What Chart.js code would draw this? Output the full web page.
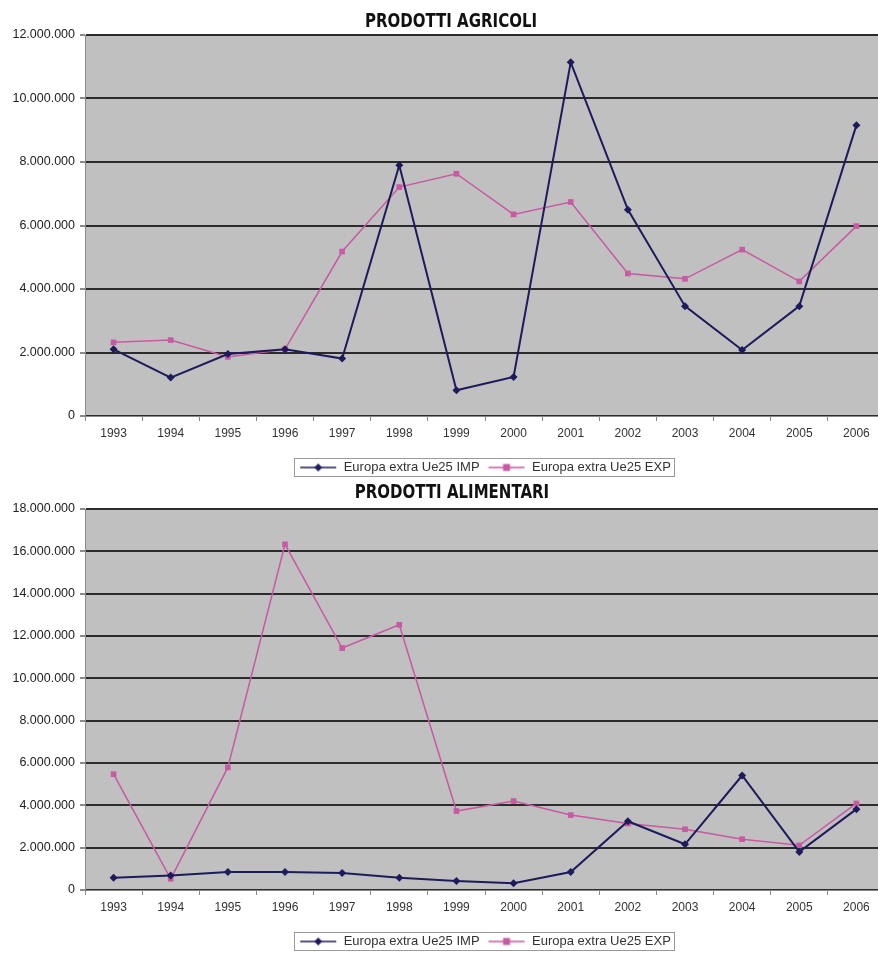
<!DOCTYPE html>
<html>
<head>
<meta charset="utf-8">
<script src="https://cdn.jsdelivr.net/npm/chart.js@4/dist/chart.umd.min.js"></script>
<style>
    html, body { margin: 0; padding: 0; background: #fff; overflow: hidden; }
    .panel { position: absolute; left: 0; width: 892px; height: 484px; }
    #agricoliBox { top: 0; }
    #alimentariBox { top: 474px; }
</style>
</head>
<body>
<div class="panel" id="agricoliBox"><canvas id="agricoliChart"></canvas></div>
<div class="panel" id="alimentariBox"><canvas id="alimentariChart"></canvas></div>
<script>
// Years on the x axis
const years = ['1993', '1994', '1995', '1996', '1997', '1998', '1999',
               '2000', '2001', '2002', '2003', '2004', '2005', '2006'];

// Series labels
const impLabel = 'Europa extra Ue25 IMP';
const expLabel = 'Europa extra Ue25 EXP';

// Prodotti agricoli
const agricoliImp = [2100000, 1210000, 1950000, 2100000, 1810000, 7900000, 810000,
                     1230000, 11140000, 6500000, 3460000, 2080000, 3460000, 9160000];
const agricoliExp = [2320000, 2390000, 1860000, 2100000, 5180000, 7210000, 7630000,
                     6350000, 6740000, 4490000, 4320000, 5240000, 4240000, 5980000];

// Prodotti alimentari
const alimentariImp = [580000, 690000, 850000, 850000, 800000, 580000, 420000,
                       320000, 850000, 3250000, 2160000, 5410000, 1800000, 3820000];
const alimentariExp = [5470000, 530000, 5790000, 16330000, 11430000, 12530000, 3730000,
                       4200000, 3540000, 3140000, 2870000, 2400000, 2110000, 4090000];

// Y axis ranges
const agricoliMax = 12000000;
const alimentariMax = 18000000;
const yStep = 2000000;

const impColor = '#1d1b5c';
const expColor = '#c75aa2';

// 12000000 -> "12.000.000"
function formatDots(value) {
    return String(Math.round(value)).replace(/\B(?=(\d{3})+(?!\d))/g, '.');
}

// Small line + marker swatch used in the legend
function legendSwatch(color, marker) {
    const c = document.createElement('canvas');
    c.width = 38;
    c.height = 10;
    const g = c.getContext('2d');
    g.strokeStyle = color;
    g.lineWidth = 1.5;
    g.beginPath();
    g.moveTo(1, 5);
    g.lineTo(37, 5);
    g.stroke();
    g.fillStyle = color;
    g.beginPath();
    if (marker === 'diamond') {
        g.moveTo(19, 1); g.lineTo(23, 5); g.lineTo(19, 9); g.lineTo(15, 5);
    } else {
        g.rect(15.5, 1.5, 7, 7);
    }
    g.closePath();
    g.fill();
    return c;
}

const swatches = [legendSwatch(impColor, 'diamond'), legendSwatch(expColor, 'square')];

// Grey plot background, condensed heading and the frame around the legend
const excelLook = {
    id: 'excelLook',
    beforeDraw(chart) {
        const a = chart.chartArea;
        const ctx = chart.ctx;
        ctx.save();
        ctx.fillStyle = '#c0c0c0';
        ctx.fillRect(a.left, a.top, a.right - a.left, a.bottom - a.top);
        ctx.restore();
    },
    afterDraw(chart, args, opts) {
        const ctx = chart.ctx;

        // heading, squeezed horizontally to look like a condensed face
        ctx.save();
        ctx.translate(opts.titleX, opts.titleY);
        ctx.scale(0.75, 1);
        ctx.font = "bold 20px 'DejaVu Sans', sans-serif";
        ctx.fillStyle = '#111';
        ctx.textAlign = 'center';
        ctx.textBaseline = 'alphabetic';
        ctx.fillText(opts.title, 0, 0);
        ctx.restore();

        const boxes = chart.legend.legendHitBoxes;
        if (!boxes || !boxes.length) return;
        let left = Infinity, right = -Infinity, top = Infinity, bottom = -Infinity;
        boxes.forEach(b => {
            left = Math.min(left, b.left);
            right = Math.max(right, b.left + b.width);
            top = Math.min(top, b.top);
            bottom = Math.max(bottom, b.top + b.height);
        });
        ctx.save();
        ctx.strokeStyle = '#9a9a9a';
        ctx.lineWidth = 1;
        ctx.strokeRect(Math.round(left - 5) + 0.5, Math.round(top - 3) + 0.5,
                       Math.round(right - left + 8), Math.round(bottom - top + 5));
        ctx.restore();
    }
};

function makeChart(canvasId, titleText, titleX, titleY, impData, expData, yMax) {
    const ctx = document.getElementById(canvasId).getContext('2d');
    return new Chart(ctx, {
        type: 'line',
        data: {
            labels: years,
            datasets: [
                {
                    label: impLabel,
                    data: impData,
                    borderColor: impColor,
                    backgroundColor: impColor,
                    borderWidth: 2,
                    pointStyle: 'rectRot',
                    pointRadius: 4,
                    pointBorderWidth: 0,
                    tension: 0
                },
                {
                    label: expLabel,
                    data: expData,
                    borderColor: expColor,
                    backgroundColor: expColor,
                    borderWidth: 1.5,
                    pointStyle: 'rect',
                    pointRadius: 4,
                    pointBorderWidth: 0,
                    tension: 0
                }
            ]
        },
        options: {
            responsive: true,
            maintainAspectRatio: false,
            animation: false,
            layout: { padding: { left: 0, right: 7, top: 35, bottom: 0 } },
            plugins: {
                excelLook: { title: titleText, titleX: titleX, titleY: titleY },
                title: { display: false },
                legend: {
                    position: 'bottom',
                    fullSize: false,
                    labels: {
                        color: '#333',
                        font: { family: "'Liberation Sans', Arial, sans-serif", size: 13 },
                        usePointStyle: true,
                        pointStyleWidth: 38,
                        padding: 8,
                        generateLabels(chart) {
                            const items = Chart.defaults.plugins.legend.labels.generateLabels(chart);
                            items.forEach((item, i) => { item.pointStyle = swatches[i]; });
                            return items;
                        }
                    }
                },
                tooltip: { enabled: false }
            },
            scales: {
                x: {
                    offset: true,
                    afterFit(scale) { scale.height = 37; },
                    grid: {
                        offset: true,
                        drawOnChartArea: false,
                        tickLength: 5,
                        tickColor: '#8a8a8a'
                    },
                    border: { color: '#8a8a8a', width: 1 },
                    ticks: {
                        color: '#333',
                        font: { family: "'Liberation Sans', Arial, sans-serif", size: 12 },
                        padding: 5,
                        maxRotation: 0,
                        autoSkip: false
                    }
                },
                y: {
                    min: 0,
                    max: yMax,
                    afterFit(scale) { scale.width = 85; },
                    grid: {
                        color: '#2b2b2b',
                        lineWidth: 2,
                        tickLength: 5,
                        tickColor: '#8a8a8a'
                    },
                    border: { color: '#8a8a8a', width: 1 },
                    ticks: {
                        stepSize: yStep,
                        color: '#222',
                        font: { family: "'Liberation Sans', Arial, sans-serif", size: 12.5 },
                        padding: 5,
                        callback: value => formatDots(value)
                    }
                }
            }
        },
        plugins: [excelLook]
    });
}

makeChart('agricoliChart', 'PRODOTTI AGRICOLI', 451, 27, agricoliImp, agricoliExp, agricoliMax);
makeChart('alimentariChart', 'PRODOTTI ALIMENTARI', 452, 24, alimentariImp, alimentariExp, alimentariMax);
</script>
</body>
</html>
